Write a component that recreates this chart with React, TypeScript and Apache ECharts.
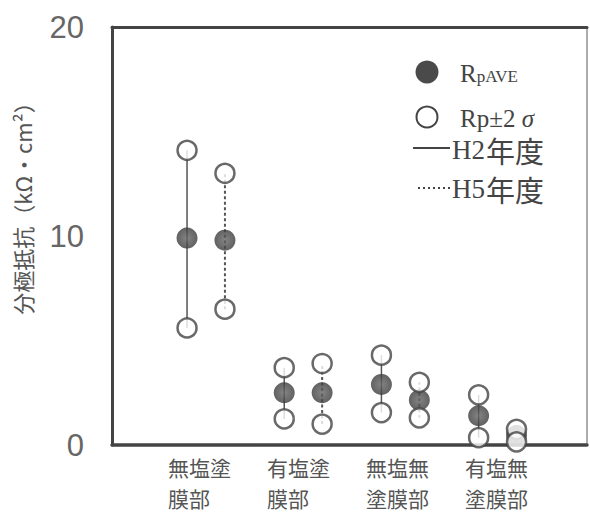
import React, { useEffect, useRef } from 'react';
import * as echarts from 'echarts';

const categories = ['無塩塗\n膜部', '有塩塗\n膜部', '無塩無\n塗膜部', '有塩無\n塗膜部'];
const h2Ave = [9.9, 2.5, 2.9, 1.4];
const h2Upper = [14.1, 3.7, 4.3, 2.4];
const h2Lower = [5.6, 1.25, 1.55, 0.35];
const h5Ave = [9.8, 2.5, 2.15, 0.45];
const h5Upper = [13.0, 3.9, 3.0, 0.75];
const h5Lower = [6.5, 1.0, 1.3, 0.15];
const yAxisName = '分極抵抗（kΩ・cm²）';
const legendLabels = ['RpAVE', 'Rp±2 σ', 'H2年度', 'H5年度'];

const OFF = 0.195;
const XMIN = -0.967;
const XMAX = 3.92;
const INK = '#444';

export default function App() {
  const ref = useRef<HTMLDivElement>(null);
  useEffect(() => {
    if (!ref.current) return;
    const chart = echarts.init(ref.current, null, { renderer: 'svg' });
    const h2x = (i: number) => i - OFF;
    const h5x = (i: number) => i + OFF;
    const rangeData = (lo: number[], hi: number[], fx: (i: number) => number) =>
      categories.map((_, i) => [fx(i), lo[i], hi[i]]);
    const mkRange = (name: string, data: number[][], dash: number[] | null) => ({
      type: 'custom',
      name,
      xAxisIndex: 0,
      yAxisIndex: 0,
      data,
      renderItem: (params: any, api: any) => {
        const p1 = api.coord([api.value(0), api.value(1)]);
        const p2 = api.coord([api.value(0), api.value(2)]);
        return {
          type: 'line',
          shape: { x1: p1[0], y1: p1[1], x2: p2[0], y2: p2[1] },
          style: { stroke: '#555', lineWidth: dash ? 2 : 1.5, lineDash: dash || undefined, fill: null },
        };
      },
    });
    const pts = (a: number[], b: number[]) => {
      const out: number[][] = [];
      categories.forEach((_, i) => {
        out.push([h2x(i), a[i]]);
        out.push([h5x(i), b[i]]);
      });
      return out;
    };
    const openCircle = {
      color: '#fff',
      borderColor: INK,
      borderWidth: 2.5,
    };
    const serif = '"Liberation Serif", "Times New Roman", serif';
    const cjk = '"Noto Sans CJK JP", sans-serif';
    const sigmaIdx = legendLabels[1].indexOf('σ');
    const option: any = {
      animation: false,
      backgroundColor: '#fff',
      grid: [
        { left: 112, top: 27, width: 475, height: 418, show: true, borderColor: '#777', borderWidth: 1.2 },
        { left: 118.5, top: 27, width: 396, height: 418 },
      ],
      xAxis: [
        {
          type: 'value', gridIndex: 0, min: XMIN, max: XMAX, position: 'bottom',
          axisLine: { show: true, onZero: false, lineStyle: { color: INK, width: 3.5 } },
          axisTick: { show: false }, axisLabel: { show: false }, splitLine: { show: false },
        },
        {
          type: 'value', gridIndex: 0, min: XMIN, max: XMAX, position: 'top',
          axisLine: { show: true, onZero: false, lineStyle: { color: INK, width: 3 } },
          axisTick: { show: false }, axisLabel: { show: false }, splitLine: { show: false },
        },
        {
          type: 'category', gridIndex: 1, data: categories, boundaryGap: true,
          axisLine: { show: false }, axisTick: { show: false }, splitLine: { show: false },
          axisLabel: {
            align: 'left', margin: 6, fontSize: 21, lineHeight: 31, color: '#555',
            fontFamily: cjk, interval: 0,
          },
        },
      ],
      yAxis: [
        {
          type: 'value', gridIndex: 0, min: 0, max: 20, interval: 10, position: 'left',
          axisLine: { show: true, onZero: false, lineStyle: { color: INK, width: 3 } },
          axisTick: { show: false }, splitLine: { show: false },
          axisLabel: { margin: 28, fontSize: 31, color: '#666', fontFamily: '"Liberation Sans", Arial, sans-serif' },
        },
        { type: 'value', gridIndex: 1, min: 0, max: 20, show: false },
      ],
      series: [
        mkRange('H2年度', rangeData(h2Lower, h2Upper, h2x), null),
        mkRange('H5年度', rangeData(h5Lower, h5Upper, h5x), [3, 2.5]),
        {
          type: 'scatter', name: 'RpAVE', xAxisIndex: 0, yAxisIndex: 0,
          data: pts(h2Ave, h5Ave), symbol: 'circle', symbolSize: 21,
          itemStyle: {
            color: {
              type: 'radial', x: 0.5, y: 0.5, r: 0.5,
              colorStops: [{ offset: 0, color: '#666' }, { offset: 1, color: '#3a3a3a' }],
            },
          },
          emphasis: { disabled: true },
        },
        {
          type: 'scatter', name: 'upper', xAxisIndex: 0, yAxisIndex: 0,
          data: pts(h2Upper, h5Upper), symbol: 'circle', symbolSize: 19,
          itemStyle: openCircle, emphasis: { disabled: true },
        },
        {
          type: 'scatter', name: 'lower', xAxisIndex: 0, yAxisIndex: 0,
          data: pts(h2Lower, h5Lower), symbol: 'circle', symbolSize: 19,
          itemStyle: openCircle, emphasis: { disabled: true },
        },
      ],
      graphic: [
        {
          type: 'text', x: 22, y: 203, rotation: Math.PI / 2,
          style: {
            text: yAxisName, fontSize: 22, fill: '#555', fontFamily: cjk,
            align: 'center', verticalAlign: 'middle',
          },
        },
        { type: 'circle', shape: { cx: 427, cy: 72, r: 11.5 }, style: { fill: '#4a4a4a' } },
        {
          type: 'text', x: 460, y: 73,
          style: {
            text: '{a|' + legendLabels[0].slice(0, 1) + '}{b|' + legendLabels[0].slice(1) + '}',
            verticalAlign: 'middle', fill: INK,
            rich: {
              a: { fontSize: 25, fontFamily: serif, fill: INK },
              b: { fontSize: 17, fontFamily: serif, fill: INK, verticalAlign: 'bottom', padding: [0, 0, 1, 0] },
            },
          },
        },
        { type: 'circle', shape: { cx: 427, cy: 117, r: 10.5 }, style: { fill: '#fff', stroke: INK, lineWidth: 2 } },
        {
          type: 'text', x: 460, y: 118,
          style: {
            text: '{a|' + legendLabels[1].slice(0, sigmaIdx) + '}{s|' + legendLabels[1].slice(sigmaIdx) + '}',
            verticalAlign: 'middle',
            rich: {
              a: { fontSize: 25, fontFamily: serif, fill: INK },
              s: { fontSize: 25, fontFamily: serif, fontStyle: 'italic', fill: INK },
            },
          },
        },
        { type: 'line', shape: { x1: 413, y1: 148, x2: 450, y2: 148 }, style: { stroke: INK, lineWidth: 2 } },
        {
          type: 'text', x: 452, y: 150,
          style: {
            text: '{a|' + legendLabels[2].slice(0, 2) + '}{b|' + legendLabels[2].slice(2) + '}', verticalAlign: 'middle',
            rich: {
              a: { fontSize: 27, fontFamily: serif, fill: INK },
              b: { fontSize: 29, fontFamily: cjk, fill: INK, padding: [0, 0, 0, 1] },
            },
          },
        },
        { type: 'line', shape: { x1: 418, y1: 188, x2: 450, y2: 188 }, style: { stroke: INK, lineWidth: 2, lineDash: [2, 3] } },
        {
          type: 'text', x: 452, y: 189,
          style: {
            text: '{a|' + legendLabels[3].slice(0, 2) + '}{b|' + legendLabels[3].slice(2) + '}', verticalAlign: 'middle',
            rich: {
              a: { fontSize: 27, fontFamily: serif, fill: INK },
              b: { fontSize: 29, fontFamily: cjk, fill: INK, padding: [0, 0, 0, 1] },
            },
          },
        },
      ],
    };
    chart.setOption(option);
    return () => chart.dispose();
  }, []);
  return <div ref={ref} style={{ position: 'absolute', left: 0, top: 0, width: 590, height: 517 }} />;
}
